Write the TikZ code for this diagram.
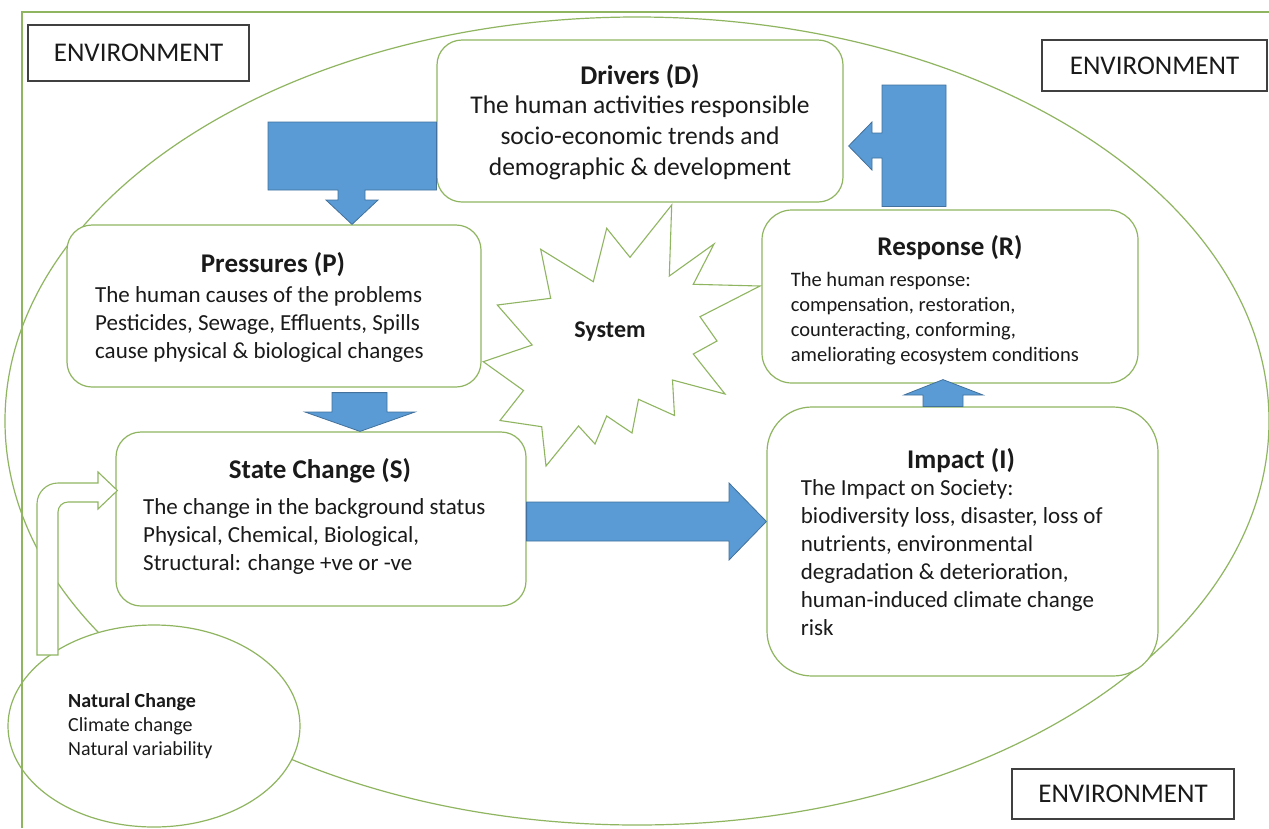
\documentclass[tikz,border=0pt]{standalone}
\usepackage{fontspec}
\setmainfont{Carlito}
\usetikzlibrary{shapes.geometric,calc}
\definecolor{boxgreen}{HTML}{8FB560}
\definecolor{arrowblue}{HTML}{5B9BD5}
\definecolor{arrowedge}{HTML}{41719C}
\definecolor{envedge}{HTML}{404040}
\definecolor{txt}{HTML}{1A1A1A}
\newcommand{\myfs}[2]{\fontsize{#1}{#2}\selectfont}
\begin{document}
\begin{tikzpicture}[x=1pt,y=-1pt,
  every node/.style={text=txt},
  box/.style={draw=boxgreen, line width=1.2pt, fill=white, rounded corners=#1, inner sep=0pt},
  box/.default=25pt,
  envbox/.style={draw=envedge, line width=1.5pt, fill=white, inner sep=0pt, font=\myfs{27}{32}},
  title/.style={anchor=base, inner sep=0pt, font=\bfseries\myfs{27}{32}},
  body/.style={anchor=north west, inner sep=0pt, align=left},
  blockarrow/.style={fill=arrowblue, draw=arrowedge, line width=0.8pt, line join=miter},
  greenline/.style={draw=boxgreen, line width=1.2pt}]
\useasboundingbox (0,0) rectangle (1269,828);
\fill[white] (0,0) rectangle (1269,828);

% big system ellipse
\draw[greenline] (637,421) ellipse [x radius=632pt, y radius=404pt];

% boxes
\node[box] (D) at (640,121) [minimum width=406pt, minimum height=162pt] {};
\node[box] (P) at (274,306) [minimum width=414pt, minimum height=162pt] {};
\node[box] (S) at (321,519) [minimum width=410pt, minimum height=174pt] {};
\node[box=30pt] (R) at (950,296.5) [minimum width=376pt, minimum height=173pt] {};
\node[box=45pt] (I) at (962.5,541.5) [minimum width=391pt, minimum height=269pt] {};

% natural change ellipse
\node[ellipse, greenline, fill=white, minimum width=292pt, minimum height=202pt, inner sep=0pt] (N) at (154,726) {};

% hollow bent arrow from natural change to state change
\draw[greenline, fill=white, line width=1.1pt]
  (37,655) -- (37,504) .. controls (37,492.4) and (46.4,483) .. (58,483)
  -- (98,483) -- (98,472) -- ($(S.west |- 0,490.5)+(2,0)$) -- (98,509) -- (98,502)
  -- (68,502) .. controls (62.5,502) and (58,506.5) .. (58,512) -- (58,655) -- cycle;

% starburst
\draw[greenline, line width=1.1pt, fill=white, line join=miter]
  (671.7,205) -- (669.3,276) -- (714,244) -- (693.3,284.3) -- (760,286) -- (700,316.7)
  -- (717,341) -- (693.3,354) -- (725,394) -- (672.5,380) -- (674.5,415.5) -- (638.5,399.3)
  -- (632,433) -- (606.7,416) -- (595,444) -- (578.5,426) -- (546,466) -- (541.7,426.7)
  -- (500,420.5) -- (523.5,390.5) -- (483.3,361.7) -- (532.2,345) -- (497.3,305)
  -- (550.7,298.3) -- (540.7,249.3) -- (593.3,281.7) -- (606.7,228.3) -- (630,257.3) -- cycle;
\node[anchor=base, inner sep=0pt, font=\bfseries\myfs{24}{28}] (sys) at (610,337) {System};

% frame
\draw[greenline, line width=1.1pt] (1269,12) -- (22,12) -- (22,828);

% environment labels
\node[envbox, minimum width=221pt, minimum height=56pt] (E1) at (138.5,53) {ENVIRONMENT};
\node[envbox, minimum width=225pt, minimum height=51pt] (E2) at (1154.5,65.5) {ENVIRONMENT};
\node[envbox, minimum width=222pt, minimum height=50pt] (E3) at (1123,794) {ENVIRONMENT};

% titles
\node[title] (Dt) at (640,84) {Drivers (D)};
\node[title] (Pt) at (273,272) {Pressures (P)};
\node[title] (St) at (320,478) {State Change (S)};
\node[title] (Rt) at (950,255) {Response (R)};
\node[title] (It) at (961,468) {Impact (I)};

% bodies
\node[body, anchor=north, align=center, font=\myfs{25.5}{31}] (Db) at (640,91.3)
  {\strut The human activities responsible\\ \strut socio-economic trends and\\ \strut demographic \& development};
\node[body, font=\myfs{23}{28}] (Pb) at (95,282.4)
  {\strut The human causes of the problems\\ \strut Pesticides, Sewage, Effluents, Spills\\ \strut cause physical \& biological changes};
\node[body, font=\myfs{23}{28}] (Sb) at (143,494.4)
  {\strut The change in the background status\\ \strut Physical, Chemical, Biological,\\ \strut Structural: change +ve or -ve};
\node[body, font=\myfs{20.5}{25}] (Rb) at (790.7,268.5)
  {\strut The human response:\\ \strut compensation, restoration,\\ \strut counteracting, conforming,\\ \strut ameliorating ecosystem conditions};
\node[body, font=\myfs{23}{28}] (Ib) at (800.7,475.4)
  {\strut The Impact on Society:\\ \strut biodiversity loss, disaster, loss of\\ \strut nutrients, environmental\\ \strut degradation \& deterioration,\\ \strut human-induced climate change\\ \strut risk};
\node[body, font=\myfs{20}{24}] (Nt) at (68,690.2)
  {\strut\textbf{Natural Change}\\ \strut Climate change\\ \strut Natural variability};

% blue block arrows
\draw[blockarrow] (268,122) -- (D.west |- 0,122) -- (D.west |- 0,190) -- (365,190) -- (365,200)
  -- (378,200) -- (352,0 |- P.north) -- (326,200) -- (338,200) -- (338,190) -- (268,190) -- cycle;
\draw[blockarrow] (946,85) -- (882,85) -- (882,133) -- (872,133) -- (872,122)
  -- ($(D.east |- 0,146)+(5,0)$) -- (872,170) -- (872,158) -- (882,158)
  -- ($(882,0 |- R.north)+(0,-3)$) -- ($(946,0 |- R.north)+(0,-3)$) -- cycle;
\draw[blockarrow] ($(332,0 |- P.south)+(0,5)$) -- ($(387,0 |- P.south)+(0,5)$) -- (387,412) -- (415,412)
  -- (360,0 |- S.north) -- (305,412) -- (332,412) -- cycle;
\draw[blockarrow] (S.east |- 0,502) -- (729,502) -- (729,483) -- (I.west |- 0,521.5) -- (729,560)
  -- (729,541) -- (S.east |- 0,541) -- cycle;
\draw[blockarrow] (923,0 |- I.north) -- (923,395) -- (904,395) -- ($(943,0 |- R.south)+(0,-4)$)
  -- (983,395) -- (963,395) -- (963,0 |- I.north) -- cycle;
\end{tikzpicture}
\end{document}
